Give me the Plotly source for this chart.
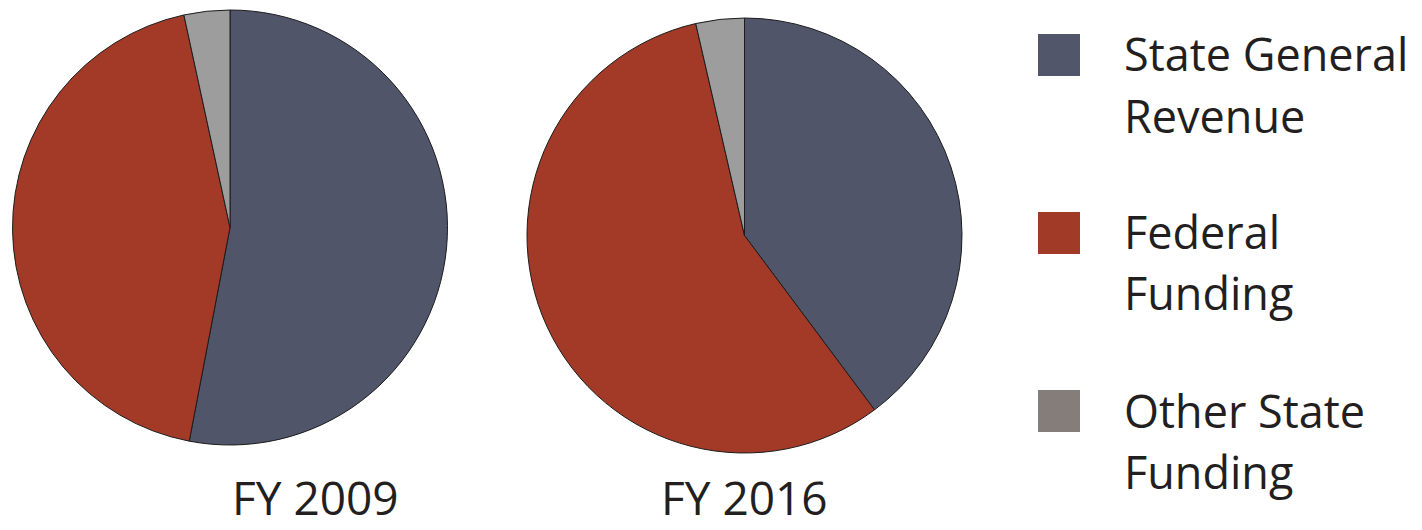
import plotly.graph_objects as go

labels = ['State General Revenue', 'Federal Funding', 'Other State Funding']
fy2009 = [53.0, 43.6, 3.4]
fy2016 = [39.8, 56.6, 3.6]
years = ['FY 2009', 'FY 2016']
pie_colors = ['#50556a', '#a33a27', '#9d9d9d']
legend_colors = ['#52566a', '#a23a28', '#857d79']
legend_lines = [['State General', 'Revenue'], ['Federal', 'Funding'], ['Other State', 'Funding']]

OFF = 8  # page body margin
W, H = 1422 - OFF, 530 - OFF
FONT = 'Open Sans'


def px(x):
    return (x - OFF) / W


def py(y):
    return (H - (y - OFF)) / H


fig = go.Figure()
# pie domains in screen pixels
doms = [((12, 448), (10, 445)), ((527, 962), (18, 453))]
for vals, (dx, dy) in zip([fy2009, fy2016], doms):
    fig.add_trace(go.Pie(labels=labels, values=vals, sort=False, direction='clockwise', rotation=0,
                         marker=dict(colors=pie_colors, line=dict(color='#1c1c1c', width=1)),
                         textinfo='none', hoverinfo='label+percent', showlegend=False,
                         domain=dict(x=[px(dx[0]), px(dx[1])], y=[py(dy[1]), py(dy[0])])))

# titles under pies
for yr, (dx, dy) in zip(years, doms):
    fig.add_annotation(text=yr, x=px((dx[0] + dx[1]) / 2), y=py(497), xref='paper', yref='paper',
                       showarrow=False, font=dict(family=FONT, size=46, color='#231f20'), yanchor='middle')

# legend drawn by hand
sq_mid = [55, 233, 411]
line_mid = [[54, 116], [231, 293], [410, 471]]
for c, lines, sm, lm in zip(legend_colors, legend_lines, sq_mid, line_mid):
    fig.add_shape(type='rect', xref='paper', yref='paper', x0=px(1038), x1=px(1080),
                  y0=py(sm + 21), y1=py(sm - 21), fillcolor=c, line=dict(width=0))
    for ln, y in zip(lines, lm):
        fig.add_annotation(text=ln, x=px(1122), y=py(y), xref='paper', yref='paper',
                           showarrow=False, xanchor='left', yanchor='middle',
                           font=dict(family=FONT, size=45, color='#231f20'))

fig.update_layout(width=W, height=H, margin=dict(l=0, r=0, t=0, b=0),
                  paper_bgcolor='white', plot_bgcolor='white')
fig.write_html('out.html')
